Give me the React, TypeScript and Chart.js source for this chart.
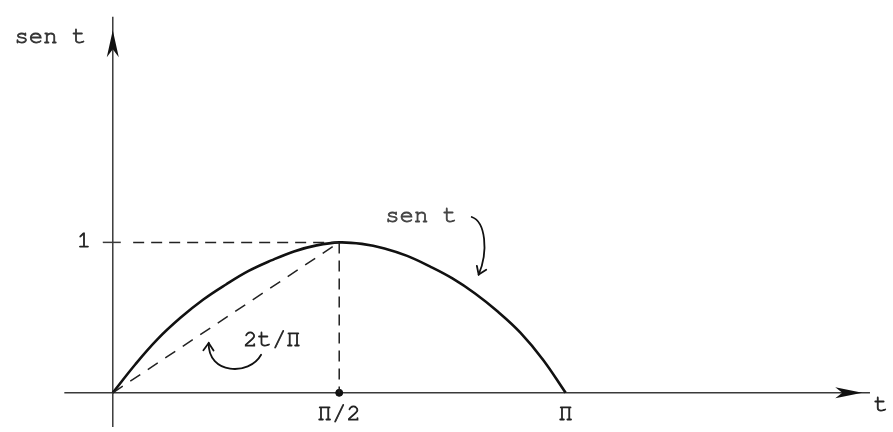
import React, { useEffect, useRef } from "react";
import { Chart, registerables } from "chart.js";

Chart.register(...registerables);

// Abscissa expressed in multiples of Π
const tValues = [0, 0.05, 0.1, 0.15, 0.2, 0.25, 0.3, 0.35, 0.4, 0.45, 0.5, 0.55, 0.6, 0.65, 0.7, 0.75, 0.8, 0.85, 0.9, 0.95, 1];
const senValues = [0, 0.19, 0.36, 0.5, 0.62, 0.72, 0.81, 0.88, 0.94, 0.98, 1, 0.99, 0.96, 0.91, 0.84, 0.76, 0.66, 0.54, 0.4, 0.22, 0];

// Chord 2t/Π from the origin to the peak
const chordT = [0, 0.5];
const chordValues = [0, 1];

// Guide lines to the peak
const guideHT = [0.045, 0.5];
const guideHValues = [1, 1];
const guideVT = [0.5, 0.5];
const guideVValues = [1, 0];

const tickPositionsX = [0.5, 1];
const tickLabelsX = ["Π/2", "Π"];
const tickPositionsY = [1];
const tickLabelsY = ["1"];

const axisNameX = "t";
const axisNameY = "sen t";
const curveLabel = "sen t";
const chordLabel = "2t/Π";

const X_MIN = -0.238;
const X_MAX = 1.7118;
const Y_MIN = -0.2273;
const Y_MAX = 2.578;

const FONT = '24px "Nimbus Mono PS", "Nimbus Mono L", FreeMono, "Courier New", Courier, "Liberation Mono", monospace';
const INK = "#222";

const pts = (xs: number[], ys: number[]) => xs.map((x, i) => ({ x, y: ys[i] }));

function openHead(ctx: CanvasRenderingContext2D, fx: number, fy: number, tx: number, ty: number, len: number, spread: number) {
  const a = Math.atan2(ty - fy, tx - fx);
  ctx.beginPath();
  ctx.moveTo(tx - len * Math.cos(a - spread), ty - len * Math.sin(a - spread));
  ctx.lineTo(tx, ty);
  ctx.lineTo(tx - len * Math.cos(a + spread), ty - len * Math.sin(a + spread));
  ctx.stroke();
}

// typewriter-style text: fill plus a light stroke to give it some weight
function typeText(ctx: CanvasRenderingContext2D, s: string, x: number, y: number, color: string) {
  ctx.fillStyle = color;
  ctx.strokeStyle = color;
  ctx.lineWidth = 0.8;
  ctx.fillText(s, x, y);
  ctx.strokeText(s, x, y);
}

const figurePlugin = {
  id: "figure",
  beforeDatasetsDraw(chart: any) {
    const { ctx, scales } = chart;
    const X = (v: number) => scales.x.getPixelForValue(v);
    const Y = (v: number) => scales.y.getPixelForValue(v);
    const x0 = X(0);
    const y0 = Y(0);
    ctx.save();
    ctx.strokeStyle = "#3a3a3a";
    ctx.fillStyle = "#111";
    ctx.lineWidth = 1.5;

    // horizontal axis
    ctx.beginPath();
    ctx.moveTo(X(-0.107), y0);
    ctx.lineTo(X(1.672), y0);
    ctx.stroke();
    // vertical axis
    ctx.beginPath();
    ctx.moveTo(x0, Y(Y_MIN));
    ctx.lineTo(x0, Y(2.5));
    ctx.stroke();

    // arrowhead on t axis
    const hx = X(1.655);
    ctx.beginPath();
    ctx.moveTo(hx, y0);
    ctx.lineTo(hx - 27, y0 - 5.5);
    ctx.lineTo(hx - 20, y0);
    ctx.lineTo(hx - 27, y0 + 5.5);
    ctx.closePath();
    ctx.fill();

    // arrowhead on sen t axis
    const hy = Y(2.41);
    ctx.beginPath();
    ctx.moveTo(x0, hy);
    ctx.lineTo(x0 - 6, hy + 27);
    ctx.lineTo(x0, hy + 19);
    ctx.lineTo(x0 + 6, hy + 27);
    ctx.closePath();
    ctx.fill();

    // tick marks on the vertical axis
    tickPositionsY.forEach((v) => {
      ctx.beginPath();
      ctx.moveTo(x0 - 10, Y(v));
      ctx.lineTo(x0 + 8, Y(v));
      ctx.stroke();
    });
    ctx.restore();
  },
  afterDatasetsDraw(chart: any) {
    const { ctx, scales } = chart;
    const X = (v: number) => scales.x.getPixelForValue(v);
    const Y = (v: number) => scales.y.getPixelForValue(v);
    ctx.save();
    ctx.font = FONT;
    ctx.textBaseline = "middle";

    // tick labels
    ctx.textAlign = "center";
    tickPositionsX.forEach((v, i) => typeText(ctx, tickLabelsX[i], X(v), Y(-0.13), INK));
    ctx.textAlign = "right";
    tickPositionsY.forEach((v, i) => typeText(ctx, tickLabelsY[i], X(-0.048), Y(v) - 3, INK));

    // axis names
    ctx.textAlign = "center";
    typeText(ctx, axisNameX, X(1.6965), Y(-0.0714), INK);
    typeText(ctx, axisNameY, X(-0.1376), Y(2.37), "#333");

    // curve annotations
    typeText(ctx, curveLabel, X(0.681), Y(1.182), "#444");
    typeText(ctx, chordLabel, X(0.3515), Y(0.357), INK);

    ctx.strokeStyle = "#111";
    ctx.lineWidth = 1.8;
    ctx.lineCap = "round";
    // pointer to the sine curve
    const a = [[0.7926, 1.1688], [0.8231, 1.1364], [0.8297, 0.9416], [0.8079, 0.7857]].map(([u, v]) => [X(u), Y(v)]);
    ctx.beginPath();
    ctx.moveTo(a[0][0], a[0][1]);
    ctx.bezierCurveTo(a[1][0], a[1][1], a[2][0], a[2][1], a[3][0], a[3][1]);
    ctx.stroke();
    openHead(ctx, a[2][0], a[2][1], a[3][0], a[3][1], 9, 0.6);

    // pointer to the chord
    const b = [[0.3275, 0.2532], [0.3013, 0.1104], [0.2096, 0.1234], [0.2118, 0.3312]].map(([u, v]) => [X(u), Y(v)]);
    ctx.beginPath();
    ctx.moveTo(b[0][0], b[0][1]);
    ctx.bezierCurveTo(b[1][0], b[1][1], b[2][0], b[2][1], b[3][0], b[3][1]);
    ctx.stroke();
    openHead(ctx, b[2][0], b[2][1], b[3][0], b[3][1], 9, 0.6);
    ctx.restore();
  },
};

export default function App() {
  const ref = useRef<HTMLCanvasElement | null>(null);

  useEffect(() => {
    if (!ref.current) return;
    const dashed = {
      type: "line" as const,
      showLine: true,
      borderColor: "#222",
      borderWidth: 1.5,
      borderDash: [11, 7],
      pointRadius: 0,
      fill: false,
      clip: false as any,
    };
    const chart = new Chart(ref.current, {
      type: "scatter",
      data: {
        datasets: [
          { ...dashed, label: "guide-h", data: pts(guideHT, guideHValues) },
          { ...dashed, label: "guide-v", data: pts(guideVT, guideVValues) },
          { ...dashed, label: chordLabel, data: pts(chordT, chordValues), borderDash: [12, 9] },
          {
            type: "line",
            label: curveLabel,
            data: pts(tValues, senValues),
            showLine: true,
            borderColor: "#111",
            borderWidth: 2.6,
            pointRadius: 0,
            tension: 0.4,
            fill: false,
            clip: false as any,
          },
          {
            type: "scatter",
            label: "Π/2",
            data: [{ x: tickPositionsX[0], y: 0 }],
            pointRadius: 3.5,
            pointBackgroundColor: "#111",
            pointBorderColor: "#111",
          },
        ] as any,
      },
      options: {
        responsive: false,
        animation: false,
        layout: { padding: 0 },
        plugins: { legend: { display: false }, tooltip: { enabled: false } },
        events: [],
        scales: {
          x: { type: "linear", min: X_MIN, max: X_MAX, display: false },
          y: { type: "linear", min: Y_MIN, max: Y_MAX, display: false },
        },
      },
      plugins: [figurePlugin],
    });
    return () => chart.destroy();
  }, []);

  return (
    <div style={{ position: "absolute", left: 0, top: 0, width: 893, height: 432, background: "#fff" }}>
      <canvas ref={ref} width={893} height={432} style={{ display: "block" }} />
    </div>
  );
}
